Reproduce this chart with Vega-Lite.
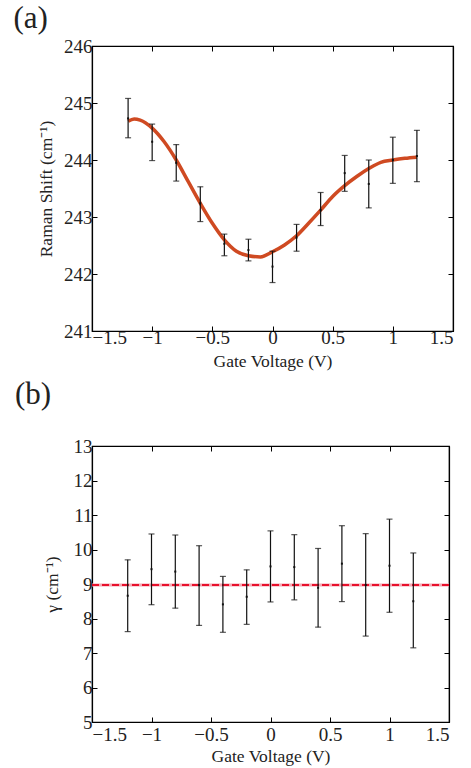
{
  "$schema": "https://vega.github.io/schema/vega-lite/v6.json",
  "padding": {"left": 12, "top": 2, "right": 5, "bottom": 0},
  "spacing": 7,
  "columns": 1,
  "background": "white",
  "datasets": {
    "ramanPts": [
      {"v": -1.2, "y": 244.73, "lo": 244.39, "hi": 245.08},
      {"v": -1.0, "y": 244.32, "lo": 243.99, "hi": 244.63},
      {"v": -0.8, "y": 243.95, "lo": 243.63, "hi": 244.27},
      {"v": -0.6, "y": 243.24, "lo": 242.92, "hi": 243.53},
      {"v": -0.4, "y": 242.53, "lo": 242.32, "hi": 242.70},
      {"v": -0.2, "y": 242.42, "lo": 242.23, "hi": 242.61},
      {"v": 0.0, "y": 242.13, "lo": 241.85, "hi": 242.40},
      {"v": 0.2, "y": 242.64, "lo": 242.40, "hi": 242.87},
      {"v": 0.4, "y": 243.12, "lo": 242.85, "hi": 243.43},
      {"v": 0.6, "y": 243.77, "lo": 243.45, "hi": 244.08},
      {"v": 0.8, "y": 243.58, "lo": 243.16, "hi": 244.0},
      {"v": 1.0, "y": 244.0, "lo": 243.59, "hi": 244.40},
      {"v": 1.2, "y": 244.07, "lo": 243.62, "hi": 244.52}
    ],
    "ramanFit": [
      {"v": -1.2, "y": 244.68},
      {"v": -1.15, "y": 244.72},
      {"v": -1.1, "y": 244.70},
      {"v": -1.0, "y": 244.56},
      {"v": -0.9, "y": 244.32},
      {"v": -0.8, "y": 244.0},
      {"v": -0.7, "y": 243.62},
      {"v": -0.6, "y": 243.24},
      {"v": -0.5, "y": 242.89},
      {"v": -0.4, "y": 242.60},
      {"v": -0.3, "y": 242.40},
      {"v": -0.2, "y": 242.32},
      {"v": -0.1, "y": 242.30},
      {"v": 0.0, "y": 242.39},
      {"v": 0.1, "y": 242.51},
      {"v": 0.2, "y": 242.67},
      {"v": 0.3, "y": 242.89},
      {"v": 0.4, "y": 243.12},
      {"v": 0.5, "y": 243.36},
      {"v": 0.6, "y": 243.55},
      {"v": 0.7, "y": 243.71},
      {"v": 0.8, "y": 243.85},
      {"v": 0.9, "y": 243.96},
      {"v": 1.0, "y": 244.0},
      {"v": 1.1, "y": 244.03},
      {"v": 1.2, "y": 244.05}
    ],
    "gammaPts": [
      {"v": -1.2, "y": 8.66, "lo": 7.62, "hi": 9.70},
      {"v": -1.0, "y": 9.43, "lo": 8.40, "hi": 10.45},
      {"v": -0.8, "y": 9.36, "lo": 8.30, "hi": 10.42},
      {"v": -0.6, "y": 8.97, "lo": 7.80, "hi": 10.11},
      {"v": -0.4, "y": 8.41, "lo": 7.60, "hi": 9.22},
      {"v": -0.2, "y": 8.63, "lo": 7.83, "hi": 9.41},
      {"v": 0.0, "y": 9.51, "lo": 8.48, "hi": 10.54},
      {"v": 0.2, "y": 9.49, "lo": 8.54, "hi": 10.43},
      {"v": 0.4, "y": 8.89, "lo": 7.75, "hi": 10.03},
      {"v": 0.6, "y": 9.59, "lo": 8.49, "hi": 10.69},
      {"v": 0.8, "y": 8.97, "lo": 7.49, "hi": 10.46},
      {"v": 1.0, "y": 9.53, "lo": 8.18, "hi": 10.88},
      {"v": 1.2, "y": 8.50, "lo": 7.15, "hi": 9.90}
    ],
    "gammaFit": [
      {"v": -1.5, "y": 8.97},
      {"v": 1.5, "y": 8.97}
    ]
  },
  "concat": [
    {
      "width": 361,
      "height": 285,
      "title": {"text": "(a)", "anchor": "start", "frame": "bounds", "dx": -24, "offset": 2, "fontSize": 31, "font": "Liberation Serif", "fontWeight": "normal", "color": "#222"},
      "layer": [
        {
          "data": {"name": "ramanFit"},
          "mark": {"type": "line", "color": "#cf4a22", "strokeWidth": 3.5, "interpolate": "monotone"},
          "encoding": {
            "x": {"field": "v", "type": "quantitative", "scale": {"domain": [-1.5, 1.5], "nice": false}, "axis": null},
            "y": {"field": "y", "type": "quantitative", "scale": {"domain": [241, 246], "nice": false, "zero": false}, "axis": null}
          }
        },
        {
          "data": {"name": "ramanPts"},
          "mark": {"type": "errorbar", "color": "#111", "thickness": 1.2, "ticks": {"size": 6, "color": "#111"}},
          "encoding": {
            "x": {"field": "v", "type": "quantitative", "title": "Gate Voltage (V)", "axis": {"values": [-1.5, -1, -0.5, 0, 0.5, 1, 1.5], "format": "~g", "labelPadding": 2, "titlePadding": 5}},
            "y": {"field": "lo", "type": "quantitative", "title": "Raman Shift (cm⁻¹)", "axis": {"values": [241, 242, 243, 244, 245, 246], "format": "~g"}},
            "y2": {"field": "hi"}
          }
        },
        {
          "data": {"name": "ramanPts"},
          "mark": {"type": "point", "shape": "square", "filled": true, "size": 4, "color": "#111", "opacity": 1},
          "encoding": {
            "x": {"field": "v", "type": "quantitative", "axis": null},
            "y": {"field": "y", "type": "quantitative", "axis": null}
          }
        },
        {
          "data": {"name": "ramanPts"},
          "mark": {"type": "point", "opacity": 0},
          "encoding": {
            "x": {"field": "v", "type": "quantitative", "axis": {"orient": "top", "labels": false, "title": null, "values": [-1.5, -1, -0.5, 0, 0.5, 1, 1.5]}},
            "y": {"field": "y", "type": "quantitative", "axis": {"orient": "right", "labels": false, "title": null, "values": [241, 242, 243, 244, 245, 246]}}
          }
        }
      ],
      "resolve": {"axis": {"x": "independent", "y": "independent"}}
    },
    {
      "width": 357,
      "height": 276,
      "title": {"text": "(b)", "anchor": "start", "frame": "bounds", "dx": -28, "offset": 26, "fontSize": 31, "font": "Liberation Serif", "fontWeight": "normal", "color": "#222"},
      "layer": [
        {
          "data": {"name": "gammaFit"},
          "mark": {"type": "line", "color": "#f3a7b3", "strokeWidth": 3},
          "encoding": {
            "x": {"field": "v", "type": "quantitative", "scale": {"domain": [-1.5, 1.5], "nice": false}, "axis": null},
            "y": {"field": "y", "type": "quantitative", "scale": {"domain": [5, 13], "nice": false, "zero": false}, "axis": null}
          }
        },
        {
          "data": {"name": "gammaFit"},
          "mark": {"type": "line", "color": "#e8102c", "strokeWidth": 2, "strokeDash": [7, 3]},
          "encoding": {
            "x": {"field": "v", "type": "quantitative", "axis": null},
            "y": {"field": "y", "type": "quantitative", "axis": null}
          }
        },
        {
          "data": {"name": "gammaPts"},
          "mark": {"type": "errorbar", "color": "#111", "thickness": 1.2, "ticks": {"size": 6, "color": "#111"}},
          "encoding": {
            "x": {"field": "v", "type": "quantitative", "title": "Gate Voltage (V)", "axis": {"values": [-1.5, -1, -0.5, 0, 0.5, 1, 1.5], "format": "~g", "labelPadding": 8, "titlePadding": 3}},
            "y": {"field": "lo", "type": "quantitative", "title": "γ (cm⁻¹)", "axis": {"values": [5, 6, 7, 8, 9, 10, 11, 12, 13], "format": "~g", "titlePadding": 12}},
            "y2": {"field": "hi"}
          }
        },
        {
          "data": {"name": "gammaPts"},
          "mark": {"type": "point", "shape": "square", "filled": true, "size": 4, "color": "#111", "opacity": 1},
          "encoding": {
            "x": {"field": "v", "type": "quantitative", "axis": null},
            "y": {"field": "y", "type": "quantitative", "axis": null}
          }
        },
        {
          "data": {"name": "gammaPts"},
          "mark": {"type": "point", "opacity": 0},
          "encoding": {
            "x": {"field": "v", "type": "quantitative", "axis": {"orient": "top", "labels": false, "title": null, "values": [-1.5, -1, -0.5, 0, 0.5, 1, 1.5]}},
            "y": {"field": "y", "type": "quantitative", "axis": {"orient": "right", "labels": false, "title": null, "values": [5, 6, 7, 8, 9, 10, 11, 12, 13]}}
          }
        }
      ],
      "resolve": {"axis": {"x": "independent", "y": "independent"}}
    }
  ],
  "config": {
    "view": {"stroke": "black", "strokeWidth": 1.2},
    "axis": {
      "grid": false,
      "domainColor": "black",
      "domainWidth": 1.2,
      "tickColor": "black",
      "tickSize": -5,
      "tickWidth": 1,
      "labelFont": "Liberation Serif",
      "labelFontSize": 19,
      "labelColor": "#222",
      "titleFont": "Liberation Serif",
      "titleFontSize": 17.5,
      "titleFontWeight": "normal",
      "titleColor": "#222"
    },
    "axisX": {"titlePadding": 3, "labelPadding": 1},
    "axisY": {"titlePadding": 8, "labelPadding": 5}
  }
}
